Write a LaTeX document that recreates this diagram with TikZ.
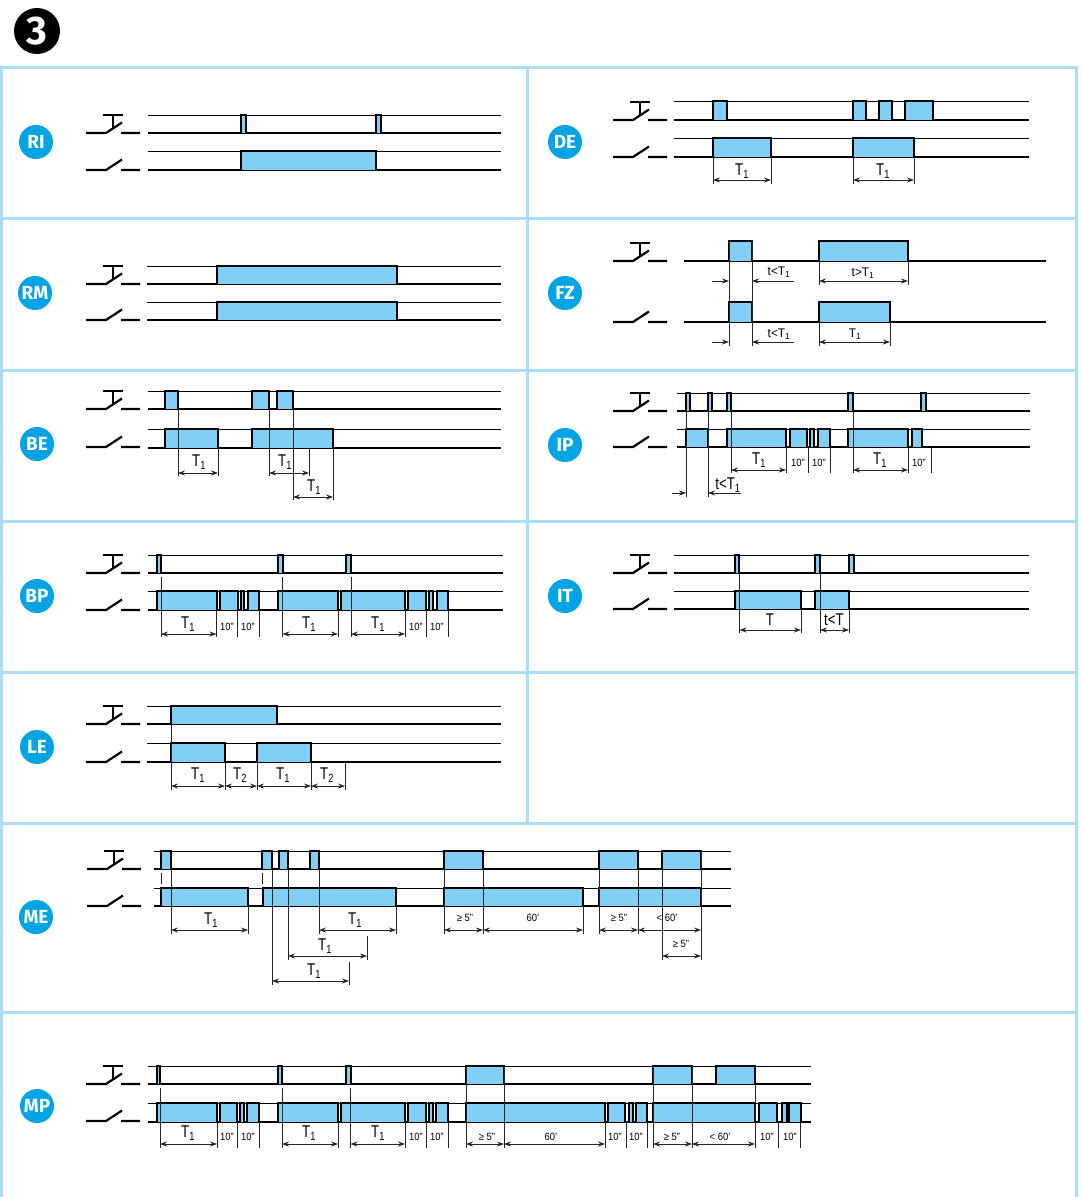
\documentclass[tikz,border=0pt]{standalone}
\usepackage{fontspec}
\setmainfont{Liberation Sans}
\newfontfamily\badgefont{Fira Sans}
\usetikzlibrary{arrows.meta,calc,positioning}
\definecolor{framecol}{HTML}{A9DDF9}
\definecolor{pulsecol}{HTML}{82CFF5}
\definecolor{badgecol}{HTML}{00A3E4}

% blue pulses standing on a base line, thin under the blue
\newcommand{\pulses}[3]{%
  \foreach \a/\b in {#3} {
    \fill[white] (\a,#2-1.3) rectangle (\b,#2+1.3);
    \draw[pulse] (\a,#2) -- (\a,#1) -- (\b,#1) -- (\b,#2);
    \draw[thinline] (\a,#2) -- (\b,#2);
  }
}
% thin upper line, thick base line and the pulses
\newcommand{\wave}[5]{%
  \draw[thinline] (#3,#1) -- (#4,#1);
  \draw[baseln] (#3,#2) -- (#4,#2);
  \pulses{#1}{#2}{#5}
}
% the two contact symbols
\newcommand{\contacts}[3]{%
  \draw[baseln] (#1,#2) -- ++(20,0) -- ++(16,-10.5) (#1+35,#2) -- ++(19,0);
  \draw[baseln] (#1+17,#2-18) -- ++(20,0) (#1+27,#2-18) -- ++(0,13);
  \draw[baseln] (#1,#3) -- ++(20,0) -- ++(16,-10.5) (#1+35,#3) -- ++(19,0);
}
\newcommand{\guides}[3]{\foreach \x in {#3} {\draw[guide] (\x,#1) -- (\x,#2);}}
\newcommand{\spans}[2]{\foreach \a/\b in {#2} {\draw[both] (\a,#1) -- (\b,#1);}}
\newcommand{\lab}[4]{\node[#1] (#2) at (#3) {#4};}
\newcommand{\Tone}{T\textsubscript{1}}
\newcommand{\Ttwo}{T\textsubscript{2}}

\begin{document}
\begin{tikzpicture}[x=1pt,y=-1pt,
  thinline/.style={line width=0.9pt},
  baseln/.style={line width=2.2pt},
  pulse/.style={line width=2pt, fill=pulsecol},
  guide/.style={line width=0.8pt, draw=black!85},
  both/.style={guide, {Stealth[length=7pt,width=5pt]}-{Stealth[length=7pt,width=5pt]}},
  one/.style={guide, -{Stealth[length=7pt,width=5pt]}},
  frameline/.style={draw=framecol, line width=3pt},
  badge/.style={circle, fill=badgecol, minimum size=34pt, inner sep=0pt, text=white, font=\badgefont\fontsize{19}{19}\selectfont\bfseries},
  big/.style={font=\fontsize{17}{17}\selectfont, xscale=0.78, inner sep=0pt},
  mid/.style={font=\fontsize{12.5}{12.5}\selectfont, xscale=0.95, inner sep=0pt},
  small/.style={font=\fontsize{10.5}{10.5}\selectfont, xscale=0.9, inner sep=0pt}]

\useasboundingbox (0,0) rectangle (1082,1197);

% Number and frame
\node[circle, fill=black, minimum size=46pt, inner sep=0pt, text=white, font=\badgefont\fontsize{40}{40}\selectfont\bfseries] (num) at (37,31) {3};
\draw[frameline] (1,1198) -- (1,67) -- (1076,67) -- (1076,1198);
\foreach \y in {218,370,521,672,823,1012} {\draw[frameline] (0,\y) -- (1076,\y);}
\draw[frameline] (527,67) -- (527,823);

% RI
\node[badge] (ri) at (36,142) {RI};
\contacts{86}{133}{170}
\wave{115}{133}{148}{501}{241/245.5,376/381}
\wave{151}{170}{148}{501}{241/376}

% DE
\node[badge] (de) at (565,142) {DE};
\contacts{613}{120}{157}
\wave{101}{120}{674}{1029}{713/727,853/866,879/892,905/933}
\wave{138}{157}{674}{1029}{713/771,853/914}
\guides{157}{184}{713,771,853,914}
\spans{180}{713/771,853/914}
\lab{big}{de1}{742,171}{\Tone}
\lab{big}{de2}{883,171}{\Tone}

% RM
\node[badge] (rm) at (35,293) {RM};
\contacts{86}{284}{320}
\wave{266}{284}{147}{501}{217/397}
\wave{302}{320}{147}{501}{217/397}

% FZ
\node[badge] (fz) at (565,293) {FZ};
\contacts{613}{261}{322}
\draw[baseln] (684,261) -- (1046,261) (684,322) -- (1046,322);
\pulses{241}{261}{729/752,819/908}
\pulses{302}{322}{729/752,819/890}
\guides{241}{346}{729,752}
\guides{261}{285}{819,908}
\guides{322}{346}{819,890}
\foreach \y in {281,342} {
  \draw[one] (712,\y) -- (729,\y);
  \draw[one] (794,\y) -- (752,\y);
}
\spans{281}{819/908}
\spans{342}{819/890}
\lab{mid}{fz1}{779,272}{t<\Tone}
\lab{mid}{fz2}{863,273}{t>\Tone}
\lab{mid}{fz3}{779,334}{t<\Tone}
\lab{mid}{fz4}{855,334}{\Tone}

% BE
\node[badge] (be) at (37,444) {BE};
\contacts{86}{409}{447}
\wave{391}{409}{148}{501}{164.5/178,252/269,277/293}
\wave{429}{448}{148}{501}{164.5/218,252/333}
\guides{409}{476}{178,269}
\guides{448}{476}{218,309}
\guides{409}{500}{293}
\guides{448}{500}{333}
\spans{473}{178/218,269/309}
\spans{497}{293/333}
\lab{big}{be1}{199,462}{\Tone}
\lab{big}{be2}{285,462}{\Tone}
\lab{big}{be3}{314,487}{\Tone}

% IP
\node[badge] (ip) at (565,445) {IP};
\contacts{613}{411}{447}
\wave{393}{411}{677}{1030}{686/690,708/712,727/731,848/853,921/926}
\wave{429}{447}{677}{1030}{686/708,727/786,790/807,810/814,818/830,848/908,912/922}
\guides{411}{497}{686,708}
\guides{411}{473}{731,853}
\guides{447}{473}{786,808,830,908,931}
\spans{470}{731/786,853/908}
\draw[one] (672,493) -- (686,493);
\draw[one] (741,493) -- (708,493);
\lab{big}{ip1}{759,460}{\Tone}
\lab{big}{ip2}{880,460}{\Tone}
\lab{big}{ip3}{728,485}{t<\Tone}
\lab{small}{ip4}{798,463}{10"}
\lab{small}{ip5}{819,463}{10"}
\lab{small}{ip6}{919,463}{10"}

% BP
\node[badge] (bp) at (37,596) {BP};
\contacts{86}{573}{610}
\wave{555}{573}{148}{503}{156.5/161,278/282.5,346/351}
\wave{591}{610}{148}{503}{156.5/216.5,219.5/237.5,240.5/244,247.5/259,278/338,341/405,408/426,429/433,436.5/448}
\guides{577}{637}{161,282.5,351}
\guides{610}{637}{216.5,237.5,259,338,405,426,448}
\spans{634}{161/216.5,282.5/338,351/405}
\lab{big}{bp1}{188,624}{\Tone}
\lab{big}{bp2}{309,624}{\Tone}
\lab{big}{bp3}{378,624}{\Tone}
\foreach \x/\n in {227/a,248/b,416/c,437/d} {\node[small] (bp\n) at (\x,627) {10"};}

% IT
\node[badge] (it) at (565,596) {IT};
\contacts{613}{573}{609}
\wave{555}{573}{674}{1029}{735/739,815/820,849/854}
\wave{591}{609}{674}{1029}{735/801,815/849}
\guides{573}{633}{739.5,820}
\guides{609}{633}{801,849}
\spans{630}{739.5/801,820/849}
\lab{big}{it1}{770,620}{T}
\lab{big}{it2}{834,620}{t<T}

% LE
\node[badge] (le) at (37,747) {LE};
\contacts{86}{724}{762}
\wave{706}{724}{147}{501}{171/277}
\wave{743}{762}{147}{501}{171/225,257/311}
\guides{724}{790}{171}
\guides{762}{790}{225,257,311,345}
\spans{786}{171/225,225/257,257/311,311/345}
\lab{big}{le1}{198,775}{\Tone}
\lab{big}{le2}{240,775}{\Ttwo}
\lab{big}{le3}{283,775}{\Tone}
\lab{big}{le4}{327,775}{\Ttwo}

% ME
\node[badge] (me) at (36,917) {ME};
\contacts{87}{869}{906}
\wave{851}{869}{154}{731}{161/171,262/272,279/288,310/319,444/483,599/638,662/701}
\wave{888}{906}{154}{731}{161/248,263/396,444/583,599/701}
\guides{873}{884}{161,262}
\guides{869}{934}{171,319,444,483,599,638}
\guides{869}{985}{272}
\guides{869}{960}{288,662}
\guides{851}{960}{701}
\guides{906}{934}{248,396,583}
\guides{936}{960}{367}
\guides{962}{985}{349}
\spans{930}{171/248,319/396,444/483,483/583,599/638,638/701}
\spans{956}{288/367,662/701}
\spans{981}{272/349}
\lab{big}{me1}{211,920}{\Tone}
\lab{big}{me2}{355,920}{\Tone}
\lab{big}{me3}{325,946}{\Tone}
\lab{big}{me4}{314,971}{\Tone}
\lab{small}{me5}{465,918}{≥ 5"}
\lab{small}{me6}{533,918}{60'}
\lab{small}{me7}{619,918}{≥ 5"}
\lab{small}{me8}{667,918}{< 60'}
\lab{small}{me9}{681,944}{≥ 5"}

% MP
\node[badge] (mp) at (37,1106) {MP};
\contacts{86}{1084}{1121}
\wave{1066}{1084}{148}{811}{156.5/160,278/282,346/350.5,466/504,653/692,716/755}
\wave{1103}{1122}{148}{811}{156.5/217,220/237,240/244,247/259,278/338,341/405,408/426,429/433,436/448,466/605,608/625,629/633,636/647,653/755,759/777,782/787,789/801}
\guides{1088}{1148}{160,282,350.5}
\guides{1066}{1148}{466,504,653,692}
\guides{1084}{1148}{755}
\guides{1122}{1148}{217,237,259,338,405,426,448,605,626,647,778,800}
\spans{1144}{160/217,282/338,350.5/405,466/504,504/605,653/692,692/755}
\lab{big}{mp1}{188,1133}{\Tone}
\lab{big}{mp2}{309,1133}{\Tone}
\lab{big}{mp3}{378,1133}{\Tone}
\foreach \x/\n in {227/a,248/b,416/c,437/d,615/e,636/f,767/g,790/h} {\node[small] (mp\n) at (\x,1137) {10"};}
\lab{small}{mpi}{487,1137}{≥ 5"}
\lab{small}{mpj}{551,1137}{60'}
\lab{small}{mpk}{672,1137}{≥ 5"}
\lab{small}{mpl}{720,1137}{< 60'}

\end{tikzpicture}
\end{document}
